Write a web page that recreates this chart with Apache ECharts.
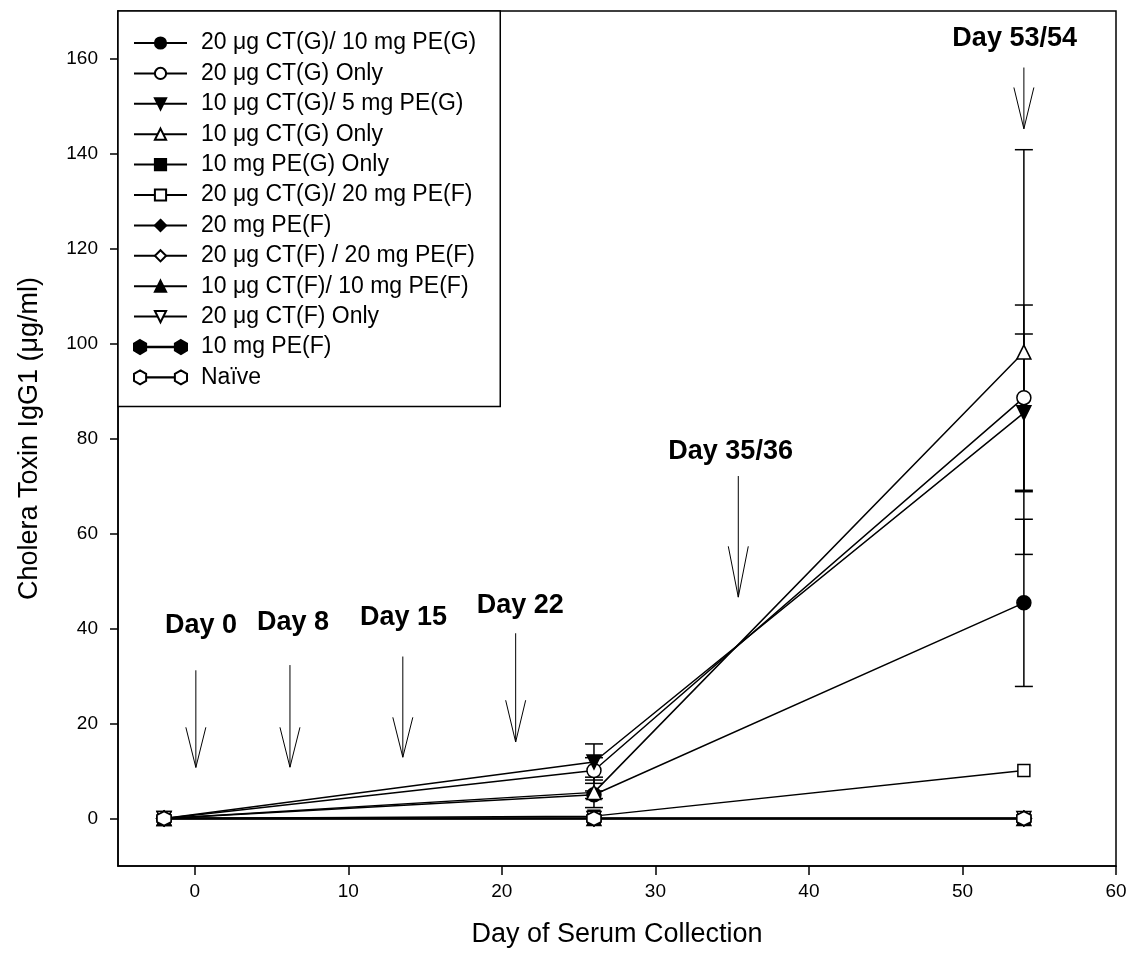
<!DOCTYPE html>
<html>
<head>
<meta charset="utf-8">
<script src="https://cdn.jsdelivr.net/npm/echarts@6/dist/echarts.min.js"></script>
<style>html,body{margin:0;padding:0;background:#fff}#c{width:1131px;height:963px}</style>
</head>
<body>
<div id="c"></div>
<script>
// ---------- data ----------
const days = [-2, 26, 54];
const xTicks = [0, 10, 20, 30, 40, 50, 60];
const yTicks = [0, 20, 40, 60, 80, 100, 120, 140, 160];

const names = [
  '20 μg CT(G)/ 10 mg PE(G)',
  '20 μg CT(G) Only',
  '10 μg CT(G)/ 5 mg PE(G)',
  '10 μg CT(G) Only',
  '10 mg PE(G) Only',
  '20 μg CT(G)/ 20 mg PE(F)',
  '20 mg PE(F)',
  '20 μg CT(F) / 20 mg PE(F)',
  '10 μg CT(F)/ 10 mg PE(F)',
  '20 μg CT(F) Only',
  '10 mg PE(F)',
  'Naïve'
];
const ctg20pe10 = [0, 5.0, 45.4];
const ctg20only = [0, 10.1, 88.6];
const ctg10pe5 = [0, 11.9, 85.4];
const ctg10only = [0, 5.5, 98.2];
const peg10only = [0, 0, 0];
const ctg20pef20 = [0, 0.5, 10.1];
const pef20 = [0, 0, 0];
const ctf20pef20 = [0, 0, 0];
const ctf10pef10 = [0, 0, 0];
const ctf20only = [0, 0, 0];
const pef10 = [0, 0, 0];
const naive = [0, 0, 0];

const err_ctg20pe10 = [0, 0.8, 17.6];
const err_ctg20only = [0, 2.7, 19.5];
const err_ctg10pe5 = [0, 3.8, 16.6];
const err_ctg10only = [0, 3.2, 42.6];

// annotations
const annLabels = ['Day 0', 'Day 8', 'Day 15', 'Day 22', 'Day 35/36', 'Day 53/54'];
const annTextX = [0.4, 6.4, 13.6, 21.2, 34.9, 53.4];
const annTextY = [40.7, 41.3, 42.4, 44.9, 77.2, 164.2];
const arrowX = [0.07, 6.2, 13.55, 20.9, 35.4, 54.0];
const arrowTop = [31.2, 32.3, 34.1, 39.0, 72.1, 158.1];
const arrowTip = [10.75, 10.8, 12.9, 16.1, 46.6, 145.2];
const arrowWing = [19.2, 19.2, 21.3, 24.9, 57.3, 153.9];

// ---------- build ----------
const values = [ctg20pe10, ctg20only, ctg10pe5, ctg10only, peg10only, ctg20pef20,
  pef20, ctf20pef20, ctf10pef10, ctf20only, pef10, naive];
const errs = [err_ctg20pe10, err_ctg20only, err_ctg10pe5, err_ctg10only];
const hex = 'path://M0,-10 L8.66,-5 L8.66,5 L0,10 L-8.66,5 L-8.66,-5 Z';
// legend icon for hexagon entries: two hexagons joined by a line
const hexPair = 'path://M6.06,0 L12.12,3.5 L12.12,10.5 L6.06,14 L0,10.5 L0,3.5 Z ' +
  'M46.94,0 L53,3.5 L53,10.5 L46.94,14 L40.88,10.5 L40.88,3.5 Z ' +
  'M12.12,6.8 L40.88,6.8 L40.88,7.2 L12.12,7.2 Z';
const sym = [
  ['circle', true, 0], ['circle', false, 0], ['triangle', true, 180], ['triangle', false, 0],
  ['rect', true, 0], ['rect', false, 0], ['diamond', true, 0], ['diamond', false, 0],
  ['triangle', true, 0], ['triangle', false, 180], [hex, true, 0], [hex, false, 0]
];
const font = '"Liberation Sans", Arial, sans-serif';

const errData = [];
errs.forEach((e, k) => {
  e.forEach((v, i) => {
    if (v > 0) {
      const m = values[k][i];
      errData.push([days[i], m - v, m + v]);
    }
  });
});

const series = [];
series.push({
  type: 'custom', name: 'err', silent: true, z: 2,
  encode: {x: 0, y: [1, 2]},
  data: errData,
  renderItem: function (params, api) {
    const x = api.value(0);
    const a = api.coord([x, api.value(1)]);
    const b = api.coord([x, api.value(2)]);
    const w = 9;
    const st = {stroke: '#000', lineWidth: 1.5};
    return {type: 'group', children: [
      {type: 'line', shape: {x1: a[0], y1: a[1], x2: b[0], y2: b[1]}, style: st},
      {type: 'line', shape: {x1: a[0] - w, y1: a[1], x2: a[0] + w, y2: a[1]}, style: st},
      {type: 'line', shape: {x1: b[0] - w, y1: b[1], x2: b[0] + w, y2: b[1]}, style: st}
    ]};
  }
});

names.forEach((n, k) => {
  const [s, filled, rot] = sym[k];
  series.push({
    type: 'line', name: n, z: 3,
    data: days.map((d, i) => [d, values[k][i]]),
    symbol: s, symbolRotate: rot,
    symbolSize: s === 'rect' ? 12 : (s === 'diamond' ? 15 : 14),
    showAllSymbol: true,
    lineStyle: {color: '#000', width: 1.5},
    itemStyle: {color: filled ? '#000' : '#fff', borderColor: '#000', borderWidth: 1.5},
    emphasis: {disabled: true},
    animation: false
  });
});

// arrows
series.push({
  type: 'custom', name: 'arrows', silent: true, z: 4,
  data: arrowX.map((x, i) => [x, arrowTop[i], arrowTip[i], arrowWing[i]]),
  renderItem: function (params, api) {
    const x = api.value(0);
    const t = api.coord([x, api.value(1)]);
    const p = api.coord([x, api.value(2)]);
    const wg = api.coord([x, api.value(3)]);
    const hw = 10;
    const st = {stroke: '#000', lineWidth: 1, fill: null};
    return {type: 'group', children: [
      {type: 'line', shape: {x1: t[0], y1: t[1], x2: p[0], y2: p[1]}, style: st},
      {type: 'polyline', shape: {points: [[p[0] - hw, wg[1]], [p[0], p[1]], [p[0] + hw, wg[1]]]}, style: st}
    ]};
  }
});
// annotation texts
series.push({
  type: 'custom', name: 'ann', silent: true, z: 4,
  data: annLabels.map((l, i) => [annTextX[i], annTextY[i], i]),
  renderItem: function (params, api) {
    const p = api.coord([api.value(0), api.value(1)]);
    return {type: 'text', x: p[0], y: p[1], style: {
      text: annLabels[api.value(2)], fill: '#000', font: 'bold 27px ' + font,
      align: 'center', verticalAlign: 'middle'}};
  }
});

const legendData = names.map((n, k) => k >= 10 ? {name: n, icon: hexPair} : {name: n});

const chart = echarts.init(document.getElementById('c'), null, {renderer: 'canvas'});
chart.setOption({
  animation: false,
  backgroundColor: '#fff',
  grid: {left: 118, right: 15, top: 11, bottom: 97, show: true,
    borderColor: '#000', borderWidth: 1.5, backgroundColor: 'transparent'},
  legend: {
    data: legendData, orient: 'vertical', left: 118, top: 11,
    padding: [20.5, 24, 17.5, 15], itemWidth: 53, itemHeight: 14, itemGap: 7.4,
    selectedMode: false, borderColor: '#000', borderWidth: 1.5, backgroundColor: '#fff',
    textStyle: {fontSize: 23, fontFamily: font, color: '#000', lineHeight: 23, padding: [0, 0, 0, 9]}
  },
  xAxis: {
    type: 'value', min: -5, max: 60,
    name: 'Day of Serum Collection', nameLocation: 'middle', nameGap: 55,
    nameTextStyle: {fontSize: 27, fontFamily: font, color: '#000'},
    axisLine: {show: true, onZero: false, lineStyle: {color: '#000', width: 1.5}},
    axisTick: {show: true, inside: false, length: 9, customValues: xTicks, lineStyle: {color: '#000', width: 1.5}},
    axisLabel: {customValues: xTicks, fontSize: 19, fontFamily: font, color: '#000', margin: 16},
    splitLine: {show: false}
  },
  yAxis: {
    type: 'value', min: -10, max: 170,
    name: 'Cholera Toxin IgG1 (μg/ml)', nameLocation: 'middle', nameGap: 75,
    nameTextStyle: {fontSize: 27, fontFamily: font, color: '#000'},
    axisLine: {show: true, onZero: false, lineStyle: {color: '#000', width: 1.5}},
    axisTick: {show: true, inside: false, length: 8, customValues: yTicks, lineStyle: {color: '#000', width: 1.5}},
    axisLabel: {customValues: yTicks, fontSize: 19, fontFamily: font, color: '#000', margin: 20},
    splitLine: {show: false}
  },
  series: series
});
</script>
</body>
</html>
